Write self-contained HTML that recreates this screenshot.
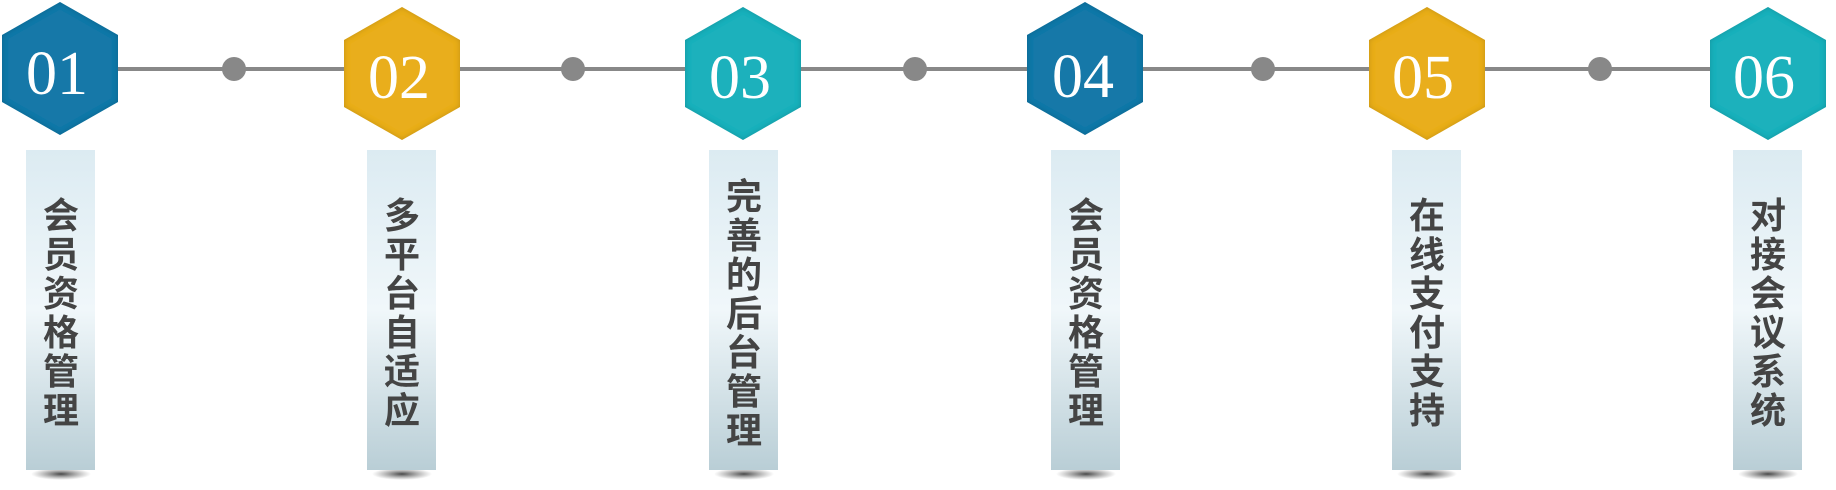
<!DOCTYPE html>
<html><head><meta charset="utf-8"><style>
html,body{margin:0;padding:0;background:#fff;}
body{width:1836px;height:485px;overflow:hidden;}
</style></head><body>
<svg width="1836" height="485" xmlns="http://www.w3.org/2000/svg">
<defs>
<linearGradient id="pg" x1="0" y1="0" x2="0" y2="1">
<stop offset="0" stop-color="#dcebf2"/><stop offset="0.5" stop-color="#f0f7fa"/><stop offset="1" stop-color="#b9ced6"/>
</linearGradient>
<radialGradient id="sh" cx="0.5" cy="0.5" r="0.5">
<stop offset="0" stop-color="#333" stop-opacity="0.9"/><stop offset="1" stop-color="#666" stop-opacity="0"/>
</radialGradient>
<filter id="ish" x="-10%" y="-10%" width="120%" height="120%">
<feGaussianBlur in="SourceAlpha" stdDeviation="3" result="b"/>
<feComposite in="SourceAlpha" in2="b" operator="out" result="o"/>
<feFlood flood-color="#000" flood-opacity="0.35"/><feComposite in2="o" operator="in" result="s"/>
<feMerge><feMergeNode in="SourceGraphic"/><feMergeNode in="s"/></feMerge>
</filter>
</defs>
<line x1="60" y1="69" x2="1768" y2="69" stroke="#888" stroke-width="4"/>
<g fill="#888">
<circle cx="234" cy="69" r="12"/><circle cx="573" cy="69" r="12"/><circle cx="915" cy="69" r="12"/><circle cx="1263" cy="69" r="12"/><circle cx="1600" cy="69" r="12"/>
</g>
<g font-family="'Liberation Serif',serif" font-size="60" fill="#fff" text-anchor="middle" filter="url(#ish)">
</g>
<g id="hexes">
<polygon filter="url(#ish)" fill="#1478a8" points="60,2 118,35 118,102 60,135 2,102 2,35"/>
<polygon filter="url(#ish)" fill="#e9ae1e" points="402,7 460,40 460,107 402,140 344,107 344,40"/>
<polygon filter="url(#ish)" fill="#1fb1bc" points="743,7 801,40 801,107 743,140 685,107 685,40"/>
<polygon filter="url(#ish)" fill="#1478a8" points="1085,2 1143,35 1143,102 1085,135 1027,102 1027,35"/>
<polygon filter="url(#ish)" fill="#e9ae1e" points="1427,7 1485,40 1485,107 1427,140 1369,107 1369,40"/>
<polygon filter="url(#ish)" fill="#1fb1bc" points="1768,7 1826,40 1826,107 1768,140 1710,107 1710,40"/>
</g>
<g font-family="'Liberation Serif',serif" font-size="62" fill="#fff" text-anchor="middle">
<text x="57" y="94">01</text><text x="399" y="98">02</text><text x="740" y="98">03</text>
<text x="1083" y="97">04</text><text x="1423" y="98">05</text><text x="1764" y="98">06</text>
</g>
<g>
<ellipse cx="61" cy="474" rx="30" ry="6" fill="url(#sh)"/><ellipse cx="402" cy="474" rx="30" ry="6" fill="url(#sh)"/><ellipse cx="744" cy="474" rx="30" ry="6" fill="url(#sh)"/><ellipse cx="1086" cy="474" rx="30" ry="6" fill="url(#sh)"/><ellipse cx="1427" cy="474" rx="30" ry="6" fill="url(#sh)"/><ellipse cx="1768" cy="474" rx="30" ry="6" fill="url(#sh)"/>
<rect x="26" y="150" width="69" height="320" fill="url(#pg)"/>
<rect x="367" y="150" width="69" height="320" fill="url(#pg)"/>
<rect x="709" y="150" width="69" height="320" fill="url(#pg)"/>
<rect x="1051" y="150" width="69" height="320" fill="url(#pg)"/>
<rect x="1392" y="150" width="69" height="320" fill="url(#pg)"/>
<rect x="1733" y="150" width="69" height="320" fill="url(#pg)"/>
</g>
<g font-family="'Liberation Sans','Noto Sans CJK SC',sans-serif" font-weight="bold" font-size="36" fill="#444" text-anchor="middle">
<text x="61" y="228"><tspan x="61">会</tspan><tspan x="61" dy="39">员</tspan><tspan x="61" dy="39">资</tspan><tspan x="61" dy="39">格</tspan><tspan x="61" dy="39">管</tspan><tspan x="61" dy="39">理</tspan></text>
<text x="402" y="228"><tspan x="402">多</tspan><tspan x="402" dy="39">平</tspan><tspan x="402" dy="39">台</tspan><tspan x="402" dy="39">自</tspan><tspan x="402" dy="39">适</tspan><tspan x="402" dy="39">应</tspan></text>
<text x="744" y="209"><tspan x="744">完</tspan><tspan x="744" dy="39">善</tspan><tspan x="744" dy="39">的</tspan><tspan x="744" dy="39">后</tspan><tspan x="744" dy="39">台</tspan><tspan x="744" dy="39">管</tspan><tspan x="744" dy="39">理</tspan></text>
<text x="1086" y="228"><tspan x="1086">会</tspan><tspan x="1086" dy="39">员</tspan><tspan x="1086" dy="39">资</tspan><tspan x="1086" dy="39">格</tspan><tspan x="1086" dy="39">管</tspan><tspan x="1086" dy="39">理</tspan></text>
<text x="1427" y="228"><tspan x="1427">在</tspan><tspan x="1427" dy="39">线</tspan><tspan x="1427" dy="39">支</tspan><tspan x="1427" dy="39">付</tspan><tspan x="1427" dy="39">支</tspan><tspan x="1427" dy="39">持</tspan></text>
<text x="1768" y="228"><tspan x="1768">对</tspan><tspan x="1768" dy="39">接</tspan><tspan x="1768" dy="39">会</tspan><tspan x="1768" dy="39">议</tspan><tspan x="1768" dy="39">系</tspan><tspan x="1768" dy="39">统</tspan></text>
</g>
</svg>
</body></html>
